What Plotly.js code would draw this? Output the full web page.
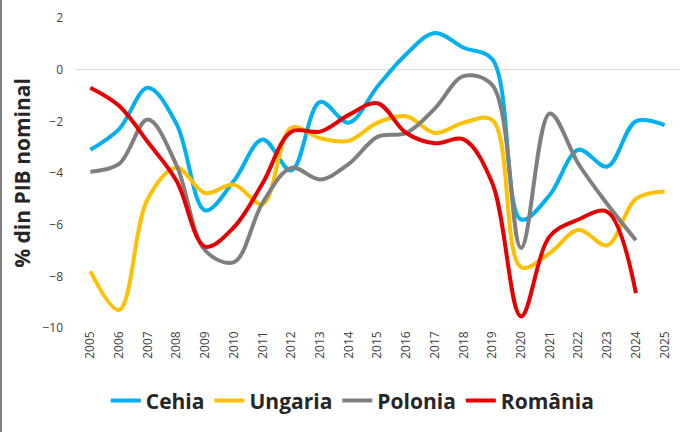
<!DOCTYPE html>
<html>
<head>
<meta charset="utf-8">
<script src="https://cdn.plot.ly/plotly-3.0.1.min.js"></script>
<style>
html,body{margin:0;padding:0;background:#fff;}
#chart{width:700px;height:432px;}
#edge{position:fixed;left:0;top:0;width:2px;height:432px;background:#7f7f7f;}
</style>
</head>
<body>
<div id="chart"></div>
<div id="edge"></div>
<script>
var years = ["2005","2006","2007","2008","2009","2010","2011","2012","2013","2014","2015","2016","2017","2018","2019","2020","2021","2022","2023","2024","2025"];
var cehia   = [-3.1, -2.3, -0.7, -2.1, -5.45, -4.3, -2.7, -3.9, -1.25, -2.05, -0.65, 0.6, 1.42, 0.85, 0.4, -5.8, -4.85, -3.1, -3.75, -2.0, -2.15];
var ungaria = [-7.8, -9.3, -5.0, -3.8, -4.78, -4.45, -5.2, -2.25, -2.65, -2.75, -2.05, -1.8, -2.45, -2.05, -1.95, -7.65, -7.1, -6.2, -6.8, -5.0, -4.72];
var polonia = [-3.95, -3.65, -1.93, -3.7, -7.0, -7.45, -5.15, -3.8, -4.25, -3.65, -2.6, -2.45, -1.5, -0.25, -0.6, -6.9, -1.7, -3.65, -5.2, -6.6, null];
var romania = [-0.7, -1.4, -2.8, -4.3, -6.85, -6.1, -4.4, -2.4, -2.4, -1.75, -1.3, -2.45, -2.85, -2.7, -4.4, -9.55, -6.45, -5.8, -5.5, -8.65, null];
var names = ["Cehia", "Ungaria", "Polonia", "România"];
var colors = ["#00B0F0", "#FFC000", "#7F7F7F", "#E60000"];
var series = [cehia, ungaria, polonia, romania];

var traces = series.map(function (s, i) {
  return {
    x: years, y: s, name: names[i], type: "scatter", mode: "lines",
    line: {color: colors[i], width: 4, shape: "spline", smoothing: 1},
    hoverinfo: "x+y+name"
  };
});

var layout = {
  width: 700, height: 432,
  margin: {l: 76, r: 21, t: 18, b: 104, autoexpand: false},
  paper_bgcolor: "#fff", plot_bgcolor: "#fff",
  font: {family: "'Open Sans', sans-serif", color: "#404040"},
  showlegend: true,
  legend: {
    orientation: "h", x: 0.459, xanchor: "center",
    y: -0.235, yanchor: "middle",
    font: {family: "'Open Sans', sans-serif", size: 21, color: "#262626", weight: "bold"}
  },
  xaxis: {
    type: "category", range: [-0.5, 20.5], tickangle: -90,
    tickmode: "array", tickvals: years, ticktext: years,
    showgrid: false, zeroline: false, showline: false, ticks: "",
    tickfont: {size: 12, color: "#404040"}, automargin: false
  },
  yaxis: {
    range: [-10, 2], dtick: 2, showgrid: false, zeroline: true,
    zerolinecolor: "#d9d9d9", zerolinewidth: 1, showline: false, ticks: "",
    ticklabelstandoff: 12, automargin: false,
    tickfont: {size: 12, color: "#404040"},
    title: {text: "% din PIB nominal", font: {size: 21, color: "#262626", weight: "bold", family: "'Open Sans', sans-serif"}, standoff: 6}
  }
};

Plotly.newPlot("chart", traces, layout, {displayModeBar: false, staticPlot: true});
</script>
</body>
</html>
